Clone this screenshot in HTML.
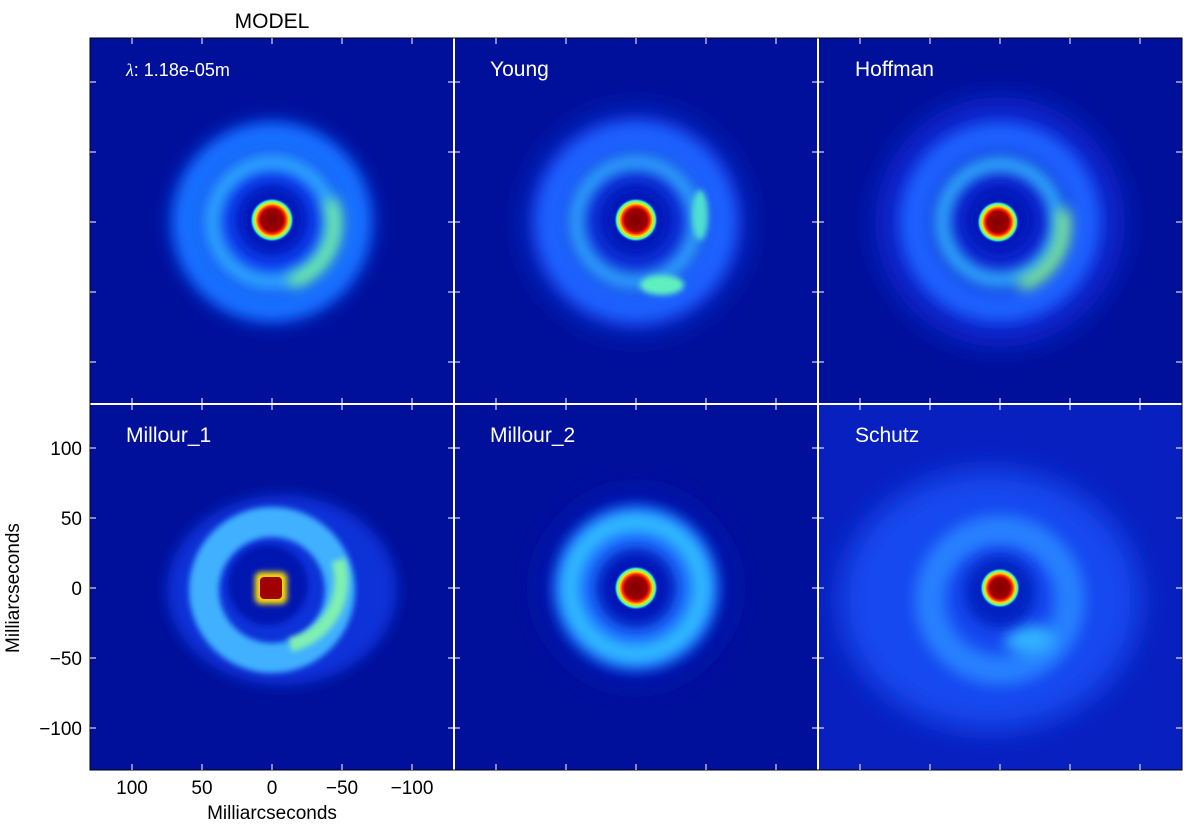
<!DOCTYPE html>
<html><head><meta charset="utf-8"><style>
body{margin:0;background:#fff;}
svg{display:block;font-family:"Liberation Sans",sans-serif;}
</style></head><body>
<svg width="1200" height="833" viewBox="0 0 1200 833">
<defs>
<filter id="b" x="-50%" y="-50%" width="200%" height="200%"><feGaussianBlur stdDeviation="7"/></filter>
<filter id="b2" x="-50%" y="-50%" width="200%" height="200%"><feGaussianBlur stdDeviation="3"/></filter>
<filter id="b3" x="-50%" y="-50%" width="200%" height="200%"><feGaussianBlur stdDeviation="14"/></filter>
<radialGradient id="core">
<stop offset="0" stop-color="#800000"/><stop offset="0.5" stop-color="#a00000"/>
<stop offset="0.62" stop-color="#ff2000"/><stop offset="0.75" stop-color="#ffe000"/>
<stop offset="0.88" stop-color="#40ffc0"/><stop offset="1" stop-color="#0040ff" stop-opacity="0"/>
</radialGradient>
<clipPath id="c1"><rect x="90" y="38" width="364" height="366"/></clipPath>
<clipPath id="c2"><rect x="454" y="38" width="364" height="366"/></clipPath>
<clipPath id="c3"><rect x="818" y="38" width="364" height="366"/></clipPath>
<clipPath id="c4"><rect x="90" y="404" width="364" height="366"/></clipPath>
<clipPath id="c5"><rect x="454" y="404" width="364" height="366"/></clipPath>
<clipPath id="c6"><rect x="818" y="404" width="364" height="366"/></clipPath>
</defs>
<rect x="90" y="38" width="1092" height="732" fill="#00109a"/>

<g clip-path="url(#c1)">
<circle cx="272" cy="222" r="95" fill="#0a40f0" filter="url(#b3)"/>
<circle cx="272" cy="222" r="85" fill="none" stroke="#1470ff" stroke-width="28" filter="url(#b)"/>
<circle cx="272" cy="222" r="60" fill="none" stroke="#30b0ff" stroke-width="16" filter="url(#b)"/>
<path d="M330 200 A60 60 0 0 1 290 282" fill="none" stroke="#80ff90" stroke-width="12" filter="url(#b)"/>
<circle cx="272" cy="220" r="36" fill="#0018b8" filter="url(#b)"/>
<circle cx="272" cy="220" r="22" fill="url(#core)"/>
</g>
<g clip-path="url(#c2)">
<circle cx="636" cy="222" r="110" fill="#0a30d8" filter="url(#b3)"/>
<circle cx="636" cy="222" r="85" fill="none" stroke="#1a60ff" stroke-width="30" filter="url(#b)"/>
<circle cx="636" cy="222" r="60" fill="none" stroke="#30a8ff" stroke-width="16" filter="url(#b)"/>
<ellipse cx="662" cy="285" rx="22" ry="10" fill="#60f0c0" filter="url(#b2)"/>
<ellipse cx="700" cy="215" rx="8" ry="25" fill="#50e0d0" filter="url(#b2)"/>
<circle cx="636" cy="220" r="36" fill="#0018b8" filter="url(#b)"/>
<circle cx="636" cy="220" r="22" fill="url(#core)"/>
</g>
<g clip-path="url(#c3)">
<circle cx="1000" cy="222" r="125" fill="#0a28d0" filter="url(#b3)"/>
<circle cx="1000" cy="222" r="85" fill="none" stroke="#1a60ff" stroke-width="30" filter="url(#b)"/>
<circle cx="1000" cy="222" r="58" fill="none" stroke="#30b0ff" stroke-width="16" filter="url(#b)"/>
<path d="M1062 210 A62 62 0 0 1 1020 285" fill="none" stroke="#90ff80" stroke-width="12" filter="url(#b)"/>
<circle cx="1000" cy="220" r="34" fill="#0018b8" filter="url(#b)"/>
<circle cx="998" cy="222" r="21" fill="url(#core)"/>
</g>
<g clip-path="url(#c4)">
<ellipse cx="282" cy="590" rx="115" ry="95" fill="#0a30d8" filter="url(#b)"/>
<circle cx="272" cy="590" r="68" fill="none" stroke="#40b0ff" stroke-width="30" filter="url(#b2)"/>
<path d="M338 560 A66 66 0 0 1 290 645" fill="none" stroke="#80f0b0" stroke-width="14" filter="url(#b2)"/>
<circle cx="268" cy="585" r="40" fill="#0018b0" filter="url(#b2)"/>
<rect x="255" y="572" width="32" height="32" rx="6" fill="#ffe000" filter="url(#b2)"/>
<rect x="260" y="577" width="22" height="22" rx="4" fill="#a00000"/>
</g>
<g clip-path="url(#c5)">
<circle cx="636" cy="588" r="100" fill="#0018b0" filter="url(#b3)"/>
<circle cx="636" cy="588" r="82" fill="#1a70ff" filter="url(#b)"/>
<circle cx="636" cy="588" r="66" fill="none" stroke="#30c0ff" stroke-width="18" filter="url(#b)"/>
<circle cx="636" cy="588" r="40" fill="#0018b8" filter="url(#b)"/>
<circle cx="636" cy="588" r="22" fill="url(#core)"/>
</g>
<g clip-path="url(#c6)">
<rect x="818" y="404" width="364" height="366" fill="#0820c0"/>
<ellipse cx="990" cy="600" rx="150" ry="130" fill="#1848f0" filter="url(#b3)"/>
<circle cx="1000" cy="600" r="70" fill="none" stroke="#2880ff" stroke-width="30" filter="url(#b)"/>
<ellipse cx="1030" cy="640" rx="25" ry="15" fill="#30b0ff" filter="url(#b)"/>
<circle cx="1000" cy="592" r="36" fill="#0020c0" filter="url(#b)"/>
<circle cx="1000" cy="588" r="20" fill="url(#core)"/>
</g>

<g stroke="#fff" stroke-width="2">
<line x1="454" y1="38" x2="454" y2="770"/><line x1="818" y1="38" x2="818" y2="770"/>
<line x1="90" y1="404" x2="1182" y2="404"/>
</g>
<rect x="90" y="38" width="1092" height="732" fill="none" stroke="#000" stroke-width="1"/>
<g stroke="#fff" stroke-width="1">
<path d="M90 82h6M90 152h6M90 222h6M90 292h6M90 362h6M90 448h6M90 518h6M90 588h6M90 658h6M90 728h6"/>
<path d="M454 82h-6M454 152h-6M454 222h-6M454 292h-6M454 362h-6M454 82h6M454 152h6M454 222h6M454 292h6M454 362h6"/>
<path d="M454 448h-6M454 518h-6M454 588h-6M454 658h-6M454 728h-6M454 448h6M454 518h6M454 588h6M454 658h6M454 728h6"/>
<path d="M818 82h-6M818 152h-6M818 222h-6M818 292h-6M818 362h-6M818 82h6M818 152h6M818 222h6M818 292h6M818 362h6"/>
<path d="M818 448h-6M818 518h-6M818 588h-6M818 658h-6M818 728h-6M818 448h6M818 518h6M818 588h6M818 658h6M818 728h6"/>
<path d="M1182 82h-6M1182 152h-6M1182 222h-6M1182 292h-6M1182 362h-6M1182 448h-6M1182 518h-6M1182 588h-6M1182 658h-6M1182 728h-6"/>
<path d="M132 38v6M202 38v6M272 38v6M342 38v6M412 38v6M496 38v6M566 38v6M636 38v6M706 38v6M776 38v6M860 38v6M930 38v6M1000 38v6M1070 38v6M1140 38v6"/>
<path d="M132 770v-6M202 770v-6M272 770v-6M342 770v-6M412 770v-6M496 770v-6M566 770v-6M636 770v-6M706 770v-6M776 770v-6M860 770v-6M930 770v-6M1000 770v-6M1070 770v-6M1140 770v-6"/>
<path d="M132 404v-6M202 404v-6M272 404v-6M342 404v-6M412 404v-6M496 404v-6M566 404v-6M636 404v-6M706 404v-6M776 404v-6M860 404v-6M930 404v-6M1000 404v-6M1070 404v-6M1140 404v-6"/>
<path d="M132 404v6M202 404v6M272 404v6M342 404v6M412 404v6M496 404v6M566 404v6M636 404v6M706 404v6M776 404v6M860 404v6M930 404v6M1000 404v6M1070 404v6M1140 404v6"/>
</g>
<g fill="#fff" font-size="21">
<text x="126" y="76" font-size="18"><tspan font-family="Liberation Serif" font-style="italic">λ</tspan>: 1.18e-05m</text>
<text x="490" y="76">Young</text>
<text x="855" y="76">Hoffman</text>
<text x="126" y="442">Millour_1</text>
<text x="490" y="442">Millour_2</text>
<text x="855" y="442">Schutz</text>
</g>
<text x="272" y="28" font-size="21" text-anchor="middle">MODEL</text>
<g font-size="19" text-anchor="end">
<text x="82" y="455">100</text><text x="82" y="525">50</text><text x="82" y="595">0</text>
<text x="82" y="665">−50</text><text x="82" y="735">−100</text>
</g>
<g font-size="19" text-anchor="middle">
<text x="132" y="794">100</text><text x="202" y="794">50</text><text x="272" y="794">0</text>
<text x="342" y="794">−50</text><text x="412" y="794">−100</text>
</g>
<text x="272" y="819" font-size="19" text-anchor="middle">Milliarcseconds</text>
<text transform="translate(19,588) rotate(-90)" font-size="19" text-anchor="middle">Milliarcseconds</text>
</svg>
</body></html>
